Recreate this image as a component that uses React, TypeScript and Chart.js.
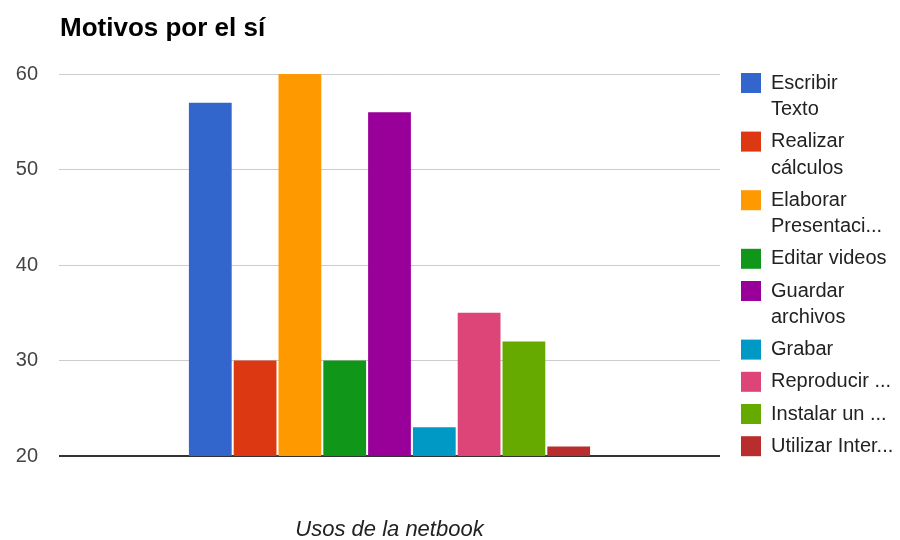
import React, { useEffect, useRef } from "react";
import { Chart, registerables } from "chart.js";

Chart.register(...registerables);

const categories = [""];
const seriesNames = [
  "Escribir Texto",
  "Realizar cálculos",
  "Elaborar Presentaciones",
  "Editar videos",
  "Guardar archivos",
  "Grabar",
  "Reproducir ...",
  "Instalar un ...",
  "Utilizar Inter...",
];
const legendLines = [
  ["Escribir", "Texto"],
  ["Realizar", "cálculos"],
  ["Elaborar", "Presentaci..."],
  ["Editar videos"],
  ["Guardar", "archivos"],
  ["Grabar"],
  ["Reproducir ..."],
  ["Instalar un ..."],
  ["Utilizar Inter..."],
];
const seriesValues = [57, 30, 60, 30, 56, 23, 35, 32, 21];
const seriesColors = [
  "#3366cc",
  "#dc3912",
  "#ff9900",
  "#109618",
  "#990099",
  "#0099c6",
  "#dd4477",
  "#66aa00",
  "#b82e2e",
];
const yMin = 20;
const yMax = 60;
const yStep = 10;
const chartTitle = "Motivos por el sí";
const xTitle = "Usos de la netbook";

const FONT = "'Liberation Sans', Arial, sans-serif";

const overlayPlugin = {
  id: "overlay",
  afterDraw(chart: any) {
    const ctx = chart.ctx;
    ctx.save();
    ctx.textBaseline = "middle";
    ctx.textAlign = "left";
    ctx.font = `bold 26px ${FONT}`;
    ctx.fillStyle = "#000000";
    ctx.fillText(chartTitle, 60, 29);

    ctx.font = `20px ${FONT}`;
    let y = 83;
    legendLines.forEach((lines, i) => {
      ctx.fillStyle = seriesColors[i];
      ctx.fillRect(741, y - 10, 20, 20);
      ctx.fillStyle = "#222222";
      lines.forEach((l, j) => ctx.fillText(l, 771, y + j * 26.4));
      y += lines.length * 26.4 + 5.8;
    });
    ctx.restore();
  },
};

export default function App() {
  const ref = useRef<HTMLCanvasElement | null>(null);

  useEffect(() => {
    if (!ref.current) return;
    const chart = new Chart(ref.current, {
      type: "bar",
      data: {
        labels: categories,
        datasets: seriesNames.map((name, i) => ({
          label: name,
          data: [seriesValues[i]],
          backgroundColor: seriesColors[i],
          borderWidth: 0,
          barPercentage: 0.955,
          categoryPercentage: 0.61,
        })),
      },
      options: {
        responsive: false,
        animation: false,
        layout: { padding: { top: 74, right: 180, left: 0, bottom: 0 } },
        plugins: {
          legend: { display: false },
          title: { display: false },
          tooltip: { enabled: false },
        },
        scales: {
          x: {
            grid: { display: false },
            border: { display: false },
            ticks: { display: false },
            title: {
              display: true,
              text: xTitle,
              color: "#222222",
              font: { family: FONT, size: 22, style: "italic", lineHeight: 0.9 },
              padding: { top: 0, bottom: 0 },
            },
            afterFit(scale: any) {
              scale.height = 84;
            },
          },
          y: {
            min: yMin,
            max: yMax,
            border: { display: false },
            grid: {
              drawTicks: false,
              color: (c: any) => (c.tick && c.tick.value === yMin ? "#333333" : "#cccccc"),
              lineWidth: (c: any) => (c.tick && c.tick.value === yMin ? 2 : 1),
            },
            ticks: {
              stepSize: yStep,
              padding: 21,
              color: "#444444",
              font: { family: FONT, size: 20 },
            },
            afterFit(scale: any) {
              scale.width = 59;
            },
          },
        },
      },
      plugins: [overlayPlugin],
    });
    return () => chart.destroy();
  }, []);

  return (
    <div style={{ position: "absolute", left: 0, top: 0, width: 900, height: 540, background: "#fff" }}>
      <canvas ref={ref} width={900} height={540} style={{ width: 900, height: 540 }} />
    </div>
  );
}
